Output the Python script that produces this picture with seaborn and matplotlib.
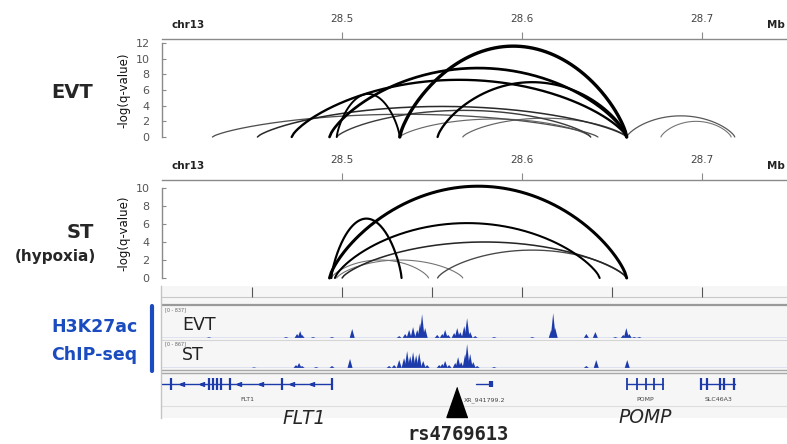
#Chromatin loop arcs (EVT / ST hypoxia) over H3K27ac ChIP-seq tracks near FLT1 / POMP
import numpy as np
import matplotlib
matplotlib.use("Agg")
import matplotlib.pyplot as plt
import matplotlib.transforms as mtransforms
from matplotlib.lines import Line2D
import seaborn as sns

#loop calls: anchor 1 (Mb), anchor 2 (Mb), -log(q-value)
evt_a = [28.532, 28.493, 28.472, 28.553, 28.497, 28.453, 28.428, 28.497, 28.532, 28.567, 28.658, 28.677]
evt_b = [28.658, 28.658, 28.658, 28.658, 28.532, 28.658, 28.642, 28.638, 28.638, 28.658, 28.718, 28.716]
evt_q = [11.6, 8.8, 7.3, 7.0, 5.5, 3.9, 2.9, 3.4, 2.3, 2.4, 2.7, 2.0]

st_a = [28.493, 28.494, 28.496, 28.500, 28.553, 28.494, 28.497]
st_b = [28.658, 28.533, 28.643, 28.658, 28.658, 28.548, 28.567]
st_q = [10.2, 6.6, 6.1, 4.0, 3.1, 2.0, 2.0]

#H3K27ac coverage peaks (position Mb, reads)
evt_pos = [28.4261, 28.4689, 28.4750, 28.4767, 28.4778, 28.4839, 28.4944, 28.5056,
           28.5317, 28.5350, 28.5372, 28.5394, 28.5417, 28.5433, 28.5444, 28.5461,
           28.5528, 28.5556, 28.5572, 28.5589, 28.5622, 28.5639, 28.5656, 28.5678, 28.5694, 28.5711, 28.5739,
           28.5844, 28.6056, 28.6161, 28.6172, 28.6183, 28.6356, 28.6406, 28.6517, 28.6561, 28.6578, 28.6594,
           28.6622, 28.6650]
evt_val = [20, 26, 105, 180, 80, 26, 26, 235,
           50, 105, 210, 285, 210, 390, 625, 260,
           80, 105, 210, 80, 130, 260, 155, 310, 520, 155, 50,
           26, 26, 210, 650, 260, 105, 155, 26, 80, 260, 105,
           26, 26]
evt_max = 837

st_pos = [28.4511, 28.4744, 28.4761, 28.4778, 28.4856, 28.4944, 28.5044, 28.5261, 28.5289, 28.5317,
          28.5344, 28.5361, 28.5378, 28.5394, 28.5411, 28.5428, 28.5450, 28.5472,
          28.5539, 28.5556, 28.5572, 28.5594, 28.5628, 28.5644, 28.5661, 28.5683, 28.5694, 28.5711, 28.5728, 28.5750,
          28.5844, 28.6356, 28.6411, 28.6583]
st_val = [22, 95, 160, 65, 32, 65, 290, 65, 95, 255,
          320, 545, 385, 510, 415, 480, 225, 95,
          95, 130, 225, 95, 160, 350, 190, 450, 770, 450, 190, 65,
          32, 65, 255, 255]
st_max = 867

#genes
gene_names = ['FLT1', 'XR_941799.2', 'POMP', 'SLC46A3']
gene_start = [28.4000, 28.5744, 28.6583, 28.6994]
gene_end = [28.4944, 28.5833, 28.6783, 28.7183]
flt1_exons = [28.4050, 28.4261, 28.4283, 28.4306, 28.4328, 28.4378, 28.4667, 28.4944]
flt1_arrows = [28.4111, 28.4222, 28.4428, 28.4550, 28.4722, 28.4833]
xr_exons = [28.5828]
pomp_exons = [28.6583, 28.6639, 28.6689, 28.6733, 28.6783]
slc_exons = [28.6994, 28.7028, 28.7100, 28.7122, 28.7178]

snp_pos = 28.5639
snp_name = 'rs4769613'

ruler_ticks = [28.5, 28.6, 28.7]
igv_ticks = [28.45, 28.50, 28.55, 28.60, 28.65, 28.70]

#layout stuff
W, H = 787, 444
X0, X1 = 162, 787
XLIM = (28.4, 28.747)
GRAY = '#8a8a8a'
BLUE = '#1c3aa9'
LABEL_BLUE = '#1a4cc0'
PW = 0.0014

sns.set_theme(style='white', rc={'axes.linewidth': 1.0})
plt.rcParams['font.family'] = ['DejaVu Sans']

fig = plt.figure(figsize=(W / 100, H / 100), dpi=100)


def px(x0, y0, x1, y1):
    return [x0 / W, 1 - y1 / H, (x1 - x0) / W, (y1 - y0) / H]


def arc_style(q):
    lw = 0.45 + 0.17 * q
    g = float(np.clip(0.75 - 0.15 * q, 0.0, 0.6))
    return lw, (g, g, g)


def draw_ruler(y_line):
    ax = fig.add_axes(px(X0, y_line - 7, X1, y_line))
    ax.set_xlim(XLIM)
    ax.set_ylim(0, 1)
    sns.despine(ax=ax, left=True)
    ax.spines['bottom'].set_color(GRAY)
    ax.set_yticks([])
    ax.set_xticks(ruler_ticks, [f'{t:.1f}' for t in ruler_ticks])
    ax.tick_params(axis='x', direction='in', length=5, width=0.8, color=GRAY,
                   bottom=True, top=False, labelbottom=False, labeltop=True,
                   labelsize=7.5, labelcolor='#444', pad=6)
    ax.patch.set_visible(False)
    fig.text(172 / W, 1 - (y_line - 14) / H, 'chr13', fontsize=7.5, weight='bold',
             color='#222', va='center', ha='left')
    fig.text(785 / W, 1 - (y_line - 14) / H, 'Mb', fontsize=7.5, weight='bold',
             color='#222', va='center', ha='right')


def draw_arcs(y0, y1, a, b, q, ymax):
    ax = fig.add_axes(px(X0, y0, X1, y1))
    ax.set_xlim(XLIM)
    ax.set_ylim(0, ymax)
    sns.despine(ax=ax, bottom=True)
    ax.spines['left'].set_color(GRAY)
    ax.set_xticks([])
    ax.set_yticks(range(0, ymax + 1, 2))
    ax.tick_params(axis='y', direction='in', length=3, width=0.8, color=GRAY, left=True,
                   labelsize=8, labelcolor='#555', pad=9)
    t = np.linspace(-1, 1, 161)
    for s, e, v in sorted(zip(a, b, q), key=lambda r: r[2]):
        lw, c = arc_style(v)
        ax.plot((s + e) / 2 + t * (e - s) / 2, v * (1 - t ** 2) ** 0.75,
                color=c, lw=lw, clip_on=False, solid_capstyle='round')
    ax.set_ylabel('-log(q-value)', fontsize=8.5, color='#111')
    ax.yaxis.set_label_coords(-0.051, 0.5)
    ax.patch.set_visible(False)
    return ax


def draw_cov(y0, y1, pos, val, vmax, name, name_y):
    ax = fig.add_axes(px(X0, y0, X1, y1))
    ax.set_xlim(XLIM)
    ax.set_ylim(0, vmax)
    sns.despine(ax=ax, left=True, bottom=True)
    ax.set_xticks([])
    ax.set_yticks([])
    ax.patch.set_visible(False)
    for p, v in zip(pos, val):
        ax.fill([p - PW, p, p + PW], [0, v, 0], color=BLUE, lw=0)
    ax.axhline(0, color='#7d95dc', lw=1.0)
    ax.text(0.005, 0.97, f'[0 - {vmax}]', transform=ax.transAxes, fontsize=3.5,
            color='#666', va='top')
    ax.text(0.032, name_y, name, transform=ax.transAxes, fontsize=12.5,
            color='#222', va='center')
    return ax


#top arc panels
draw_ruler(39)
draw_arcs(43, 137, evt_a, evt_b, evt_q, 12)
draw_ruler(180)
draw_arcs(188, 278, st_a, st_b, st_q, 10)

#igv like panel background + separators
ax_bg = fig.add_axes(px(161, 286, X1, 418))
ax_bg.set_facecolor('#f6f6f6')
sns.despine(ax=ax_bg, bottom=True)
ax_bg.spines['left'].set_color('#c4c4c4')
ax_bg.set_xticks([])
ax_bg.set_yticks([])
ax_bg.set_ylim(418, 286)
ax_bg.axhline(297, color='#c8c8c8', lw=0.8)
ax_bg.axhline(305, color='#9a9a9a', lw=1.6)
ax_bg.axhline(340, color='#d5d5d5', lw=0.8)
ax_bg.axhline(370.5, color='#a8a8a8', lw=1.0)
ax_bg.axhline(373.5, color='#a8a8a8', lw=1.0)
ax_bg.axhline(406, color='#dedede', lw=0.8)

ax_ir = fig.add_axes(px(X0, 287, X1, 297))
ax_ir.set_xlim(XLIM)
sns.despine(ax=ax_ir, left=True, bottom=True)
ax_ir.set_yticks([])
ax_ir.set_xticks(igv_ticks)
ax_ir.tick_params(axis='x', direction='in', length=7, width=0.8, color='#555',
                  bottom=True, labelbottom=False)
ax_ir.patch.set_visible(False)

draw_cov(306, 338, evt_pos, evt_val, evt_max, 'EVT', 0.41)
draw_cov(341, 368, st_pos, st_val, st_max, 'ST', 0.48)

#gene track
ax_g = fig.add_axes(px(X0, 374, X1, 406))
ax_g.set_xlim(XLIM)
ax_g.set_ylim(0, 1)
sns.despine(ax=ax_g, left=True, bottom=True)
ax_g.set_xticks([])
ax_g.set_yticks([])
ax_g.patch.set_visible(False)
gy = 0.69
for name, s, e in zip(gene_names, gene_start, gene_end):
    ax_g.plot([s, e], [gy, gy], color=BLUE, lw=1.0)
    ax_g.text((s + e) / 2, 0.19, name, fontsize=4.5, color='#444', ha='center', va='center')
for exons, lw in [(flt1_exons, 1.6), (pomp_exons, 1.3), (slc_exons, 1.6)]:
    ax_g.vlines(exons, gy - 0.2, gy + 0.2, color=BLUE, lw=lw)
ax_g.vlines(xr_exons, gy - 0.1, gy + 0.1, color=BLUE, lw=3)
ax_g.plot(flt1_arrows, [gy] * len(flt1_arrows), ls='none', marker='$<$', ms=3, color=BLUE)

#snp triangle
tr = mtransforms.blended_transform_factory(ax_g.transData, ax_g.transAxes)
ax_g.plot([snp_pos], [0.125], transform=tr, marker=[(0, 1), (-0.7, -1), (0.7, -1)],
          ms=21.6, color='black', clip_on=False, zorder=10)

#left hand labels
fig.text(72 / W, 1 - 93 / H, 'EVT', fontsize=14, weight='bold', ha='center', va='center')
fig.text(80 / W, 1 - 232 / H, 'ST', fontsize=14, weight='bold', ha='center', va='center')
fig.text(55 / W, 1 - 257 / H, '(hypoxia)', fontsize=11, weight='bold', ha='center', va='center')
fig.text(138 / W, 1 - 327 / H, 'H3K27ac', fontsize=12.5, weight='bold', color=LABEL_BLUE,
         ha='right', va='center')
fig.text(137 / W, 1 - 355 / H, 'ChIP-seq', fontsize=12.5, weight='bold', color=LABEL_BLUE,
         ha='right', va='center')
fig.add_artist(Line2D([152 / W, 152 / W], [1 - 306 / H, 1 - 371 / H], lw=3, color=LABEL_BLUE))

#bottom labels
fig.text(304 / W, 1 - 418 / H, 'FLT1', fontsize=13.5, style='italic', ha='center', va='center')
fig.text(645 / W, 1 - 417 / H, 'POMP', fontsize=13.5, style='italic', ha='center', va='center')
fig.text(458 / W, 1 - 434 / H, snp_name, fontsize=13.5, weight='bold', family='DejaVu Sans Mono',
         ha='center', va='center')

fig.savefig('out.png', dpi=100)
